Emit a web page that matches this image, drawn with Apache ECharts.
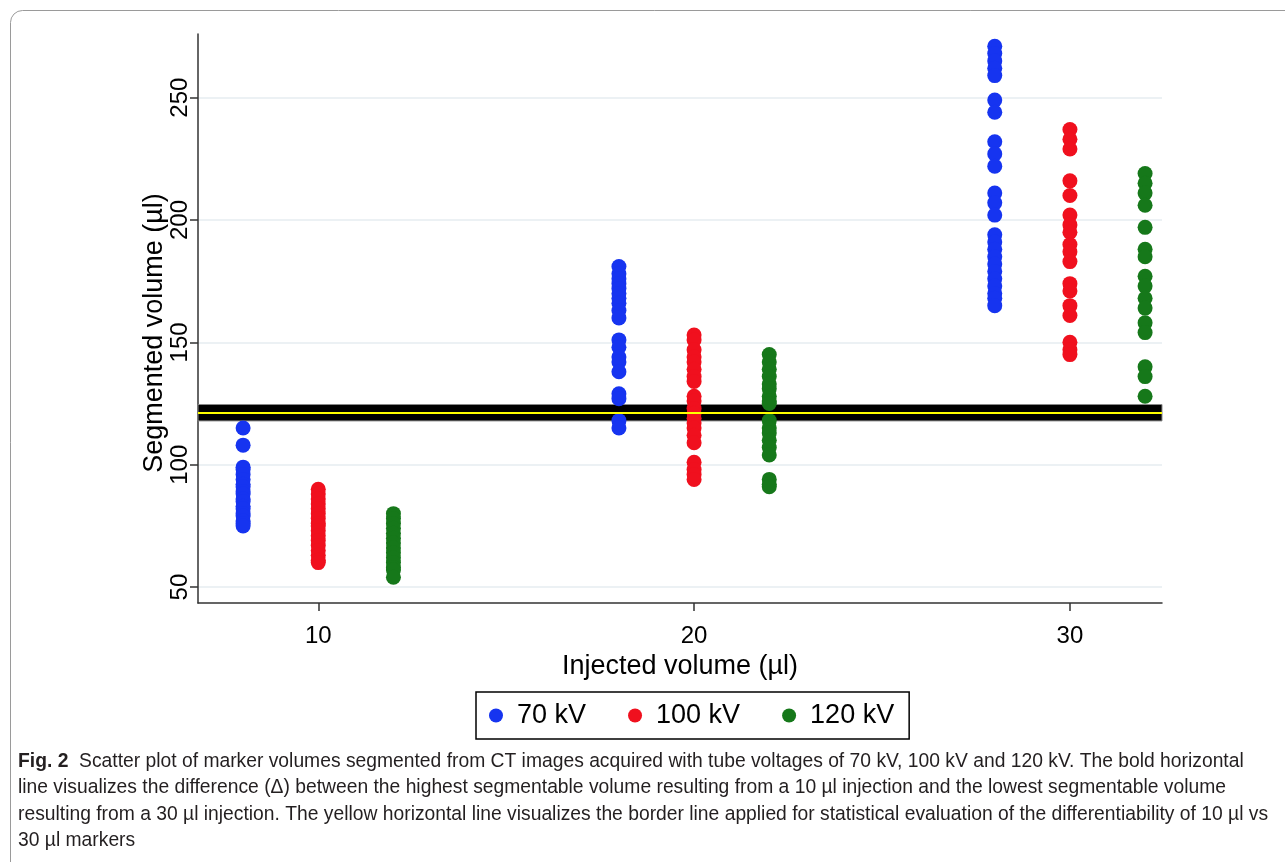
<!DOCTYPE html>
<html>
<head>
<meta charset="utf-8">
<script src="https://cdn.jsdelivr.net/npm/echarts@6/dist/echarts.min.js"></script>
<style>
  html, body { margin: 0; padding: 0; background: #fff; }
  #chart { width: 1285px; height: 862px; }
</style>
</head>
<body>
<div id="chart"></div>
<script>
// injected volume groups and tube voltages
const injected = [10, 20, 30];
const voltages = ['70 kV', '100 kV', '120 kV'];
const colors = ['#1634f0', '#f0101e', '#16781a'];
const xOffset = [-2, 0, 2]; // dodge of each voltage inside a group

// segmented volumes (µl), one list per injected volume
const vol70 = [
  [115, 108, 99, 98, 96, 94, 92, 91, 89, 88, 86, 85, 83, 82, 80, 79, 77, 76, 75],
  [181, 178, 176, 174, 172, 170, 168, 166, 163, 160, 151, 148, 144, 142, 138, 129, 127, 118, 115],
  [271, 268, 265, 262, 259, 249, 244, 232, 227, 222, 211, 207, 202, 194, 191, 188, 185, 182, 179, 176, 173, 170, 168, 165]
];
const vol100 = [
  [90, 88, 86, 84, 82, 80, 78, 76, 75, 73, 71, 69, 67, 65, 63, 61, 60],
  [153, 151, 147, 144, 142, 139, 136, 134, 128, 126, 123, 121, 119, 117, 115, 112, 109, 101, 98, 96, 94],
  [237, 233, 229, 216, 210, 202, 198, 195, 190, 187, 183, 174, 171, 165, 161, 150, 147, 145]
];
const vol120 = [
  [80, 78, 76, 74, 72, 70, 68, 66, 64, 62, 60, 58, 57, 54],
  [145, 142, 139, 136, 133, 131, 128, 126, 125, 118, 115, 113, 110, 107, 104, 94, 92, 91],
  [219, 215, 211, 206, 197, 188, 185, 177, 173, 168, 164, 158, 154, 140, 136, 128]
];
const volumes = [vol70, vol100, vol120];

const xTicks = [10, 20, 30];
const yTicks = [50, 100, 150, 200, 250];

// bold delta band and yellow border line
const deltaBand = [117.9, 124.6];
const borderLine = 121.3;

const chart = echarts.init(document.getElementById('chart'));

const scatterSeries = voltages.map((name, i) => ({
  name: name,
  type: 'scatter',
  z: 3,
  symbol: 'circle',
  symbolSize: 15,
  itemStyle: { color: colors[i], opacity: 1 },
  data: injected.flatMap((inj, j) => volumes[i][j].map(v => [inj + xOffset[i], v]))
}));

const caption =
  '{b|Fig. 2}  Scatter plot of marker volumes segmented from CT images acquired with tube voltages of 70 kV, 100 kV and 120 kV. The bold horizontal\n' +
  'line visualizes the difference (Δ) between the highest segmentable volume resulting from a 10 µl injection and the lowest segmentable volume\n' +
  'resulting from a 30 µl injection. The yellow horizontal line visualizes the border line applied for statistical evaluation of the differentiability of 10 µl vs\n' +
  '30 µl markers';

const font = 'Liberation Sans, Arial, sans-serif';

const option = {
  animation: false,
  textStyle: { fontFamily: font },
  grid: { left: 198, right: 123, top: 34, bottom: 259 },
  xAxis: {
    type: 'value',
    min: 6.8,
    max: 32.45,
    name: 'Injected volume (µl)',
    nameLocation: 'middle',
    nameGap: 47,
    nameTextStyle: { fontSize: 27, color: '#000' },
    axisLine: { lineStyle: { color: '#333', width: 1.5 } },
    axisTick: { customValues: xTicks, length: 8, lineStyle: { color: '#333', width: 1.5 } },
    axisLabel: { customValues: xTicks, fontSize: 24, color: '#000', margin: 21 },
    splitLine: { show: false }
  },
  yAxis: {
    type: 'value',
    min: 43.5,
    max: 276,
    axisLine: { show: true, lineStyle: { color: '#333', width: 1.5 } },
    axisTick: { show: true, customValues: yTicks, length: 8, lineStyle: { color: '#333', width: 1.5 } },
    axisLabel: { customValues: yTicks, rotate: 90, fontSize: 24, color: '#000', margin: 6 },
    splitLine: { show: true, lineStyle: { color: '#e6ecf0', width: 1.5 } }
  },
  legend: {
    data: voltages,
    left: 476,
    top: 692,
    orient: 'horizontal',
    icon: 'circle',
    itemWidth: 14,
    itemHeight: 14,
    itemGap: 42,
    padding: [10, 15, 10, 13],
    borderColor: '#000',
    borderWidth: 1.5,
    textStyle: { fontSize: 27, color: '#000', padding: [0, 0, 0, 9] }
  },
  graphic: [
    {
      type: 'rect',
      silent: true,
      shape: { x: 10.5, y: 10.5, width: 1300, height: 880, r: 12 },
      style: { fill: 'none', stroke: '#9a9a9a', lineWidth: 1 }
    },
    {
      type: 'text',
      x: 155,
      y: 333,
      rotation: Math.PI / 2,
      style: {
        text: 'Segmented volume (µl)',
        fontFamily: font,
        fontSize: 27,
        fill: '#000',
        align: 'center',
        verticalAlign: 'middle'
      }
    },
    {
      type: 'text',
      left: 18,
      top: 748,
      style: {
        text: caption,
        fontFamily: font,
        fontSize: 19.3,
        lineHeight: 26.5,
        fill: '#231f20',
        rich: {
          b: { fontWeight: 'bold', fontSize: 19.3, lineHeight: 26.5, fill: '#231f20' }
        }
      }
    }
  ],
  series: [
    {
      name: 'delta',
      type: 'line',
      z: 1,
      data: [],
      markArea: {
        silent: true,
        itemStyle: { color: '#000', borderColor: '#888', borderWidth: 1 },
        data: [[{ yAxis: deltaBand[0] }, { yAxis: deltaBand[1] }]]
      },
      markLine: {
        silent: true,
        symbol: ['none', 'none'],
        label: { show: false },
        lineStyle: { color: '#ffff00', width: 2, type: 'solid' },
        data: [{ yAxis: borderLine }]
      }
    },
    ...scatterSeries
  ]
};

chart.setOption(option);
</script>
</body>
</html>
